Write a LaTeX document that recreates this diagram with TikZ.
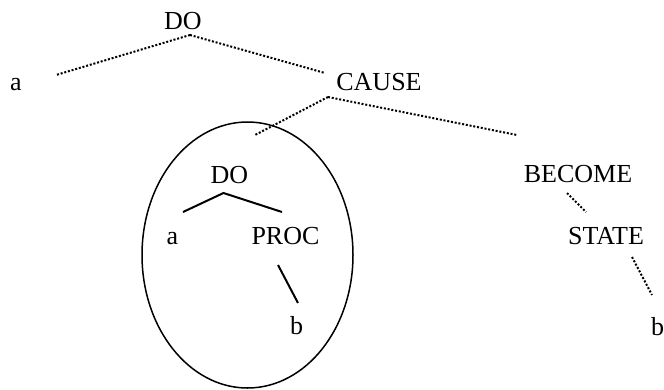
\documentclass[tikz,border=0pt]{standalone}
\usepackage{fontspec}
\setmainfont{Liberation Serif}
\usetikzlibrary{shapes.geometric}
\tikzset{
  lbl/.style={inner sep=0pt, anchor=base, font=\fontsize{26}{30}\selectfont},
  dotline/.style={line width=2pt, dash pattern=on 2pt off 1.8pt},
  solidline/.style={line width=2pt},
  ring/.style={draw, ellipse, line width=1.5pt, inner sep=0pt}
}
\begin{document}
\begin{tikzpicture}[x=1pt,y=-1pt]
\useasboundingbox (0,0) rectangle (664,389);
% labels
\node[lbl] (do1) at (183,29) {DO};
\node[lbl] (a1) at (16,90) {a};
\node[lbl] (cause) at (379,90) {CAUSE};
\node[lbl] (do2) at (229.5,183) {DO};
\node[lbl] (a2) at (172.5,244) {a};
\node[lbl] (proc) at (285.5,244) {PROC};
\node[lbl] (b2) at (296.5,334) {b};
\node[lbl] (become) at (578,182) {BECOME};
\node[lbl] (state) at (606,244) {STATE};
\node[lbl] (b3) at (657.5,335) {b};
% ellipse
\node[ring, minimum width=211pt, minimum height=266pt] (circ) at (247.5,255) {};
% connector end points
\coordinate (do1t) at (190,35);
\coordinate (a1t) at (56,75);
\coordinate (cause1) at (325,73);
\coordinate (causet) at (328,97);
\coordinate (circt) at (255,135);
\coordinate (becomet) at (517,135);
\coordinate (becomeb) at (567,193);
\coordinate (statet) at (586,212);
\coordinate (stateb) at (632,257);
\coordinate (b3t) at (652,295);
\coordinate (do2b) at (223.5,193);
\coordinate (a2t) at (183,212);
\coordinate (proct) at (282,212);
\coordinate (procb) at (278,265);
\coordinate (b2t) at (298,303);
% dotted connectors
\draw[dotline] (do1t) -- (a1t);
\draw[dotline] (do1t) -- (cause1);
\draw[dotline] (causet) -- (circt);
\draw[dotline] (causet) -- (becomet);
\draw[dotline] (becomeb) -- (statet);
\draw[dotline] (stateb) -- (b3t);
% solid connectors
\draw[solidline] (a2t) -- (do2b) -- (proct);
\draw[solidline] (procb) -- (b2t);
\end{tikzpicture}
\end{document}
